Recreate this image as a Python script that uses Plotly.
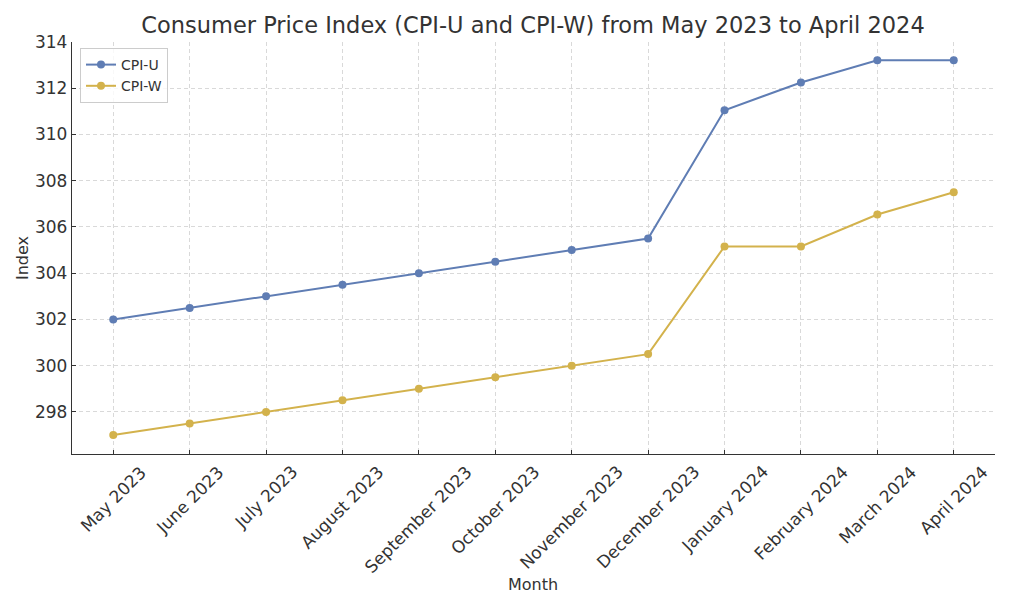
import plotly.graph_objects as go

months = ["May 2023", "June 2023", "July 2023", "August 2023", "September 2023",
          "October 2023", "November 2023", "December 2023", "January 2024",
          "February 2024", "March 2024", "April 2024"]
cpi_u = [302.0, 302.5, 303.0, 303.5, 304.0, 304.5, 305.0, 305.5, 311.05, 312.25, 313.21, 313.21]
cpi_w = [297.0, 297.5, 298.0, 298.5, 299.0, 299.5, 300.0, 300.5, 305.16, 305.16, 306.54, 307.5]
y_ticks = [298, 300, 302, 304, 306, 308, 310, 312, 314]

BLUE = "#5f7db4"
GOLD = "#d3b24c"
FONT = "DejaVu Sans"
TXT = "#333333"
GRID = "#d9d9d9"

# page has an 8px body margin; figure is sized/positioned to compensate
OFF = 8
W, H = 1024 - OFF, 607 - OFF
PL, PR, PT, PB = 72, 995, 42, 454  # plot area in window pixels

fig = go.Figure()
fig.add_trace(go.Scatter(x=list(range(len(months))), y=cpi_u, mode="lines+markers", name="CPI-U",
                         line=dict(color=BLUE, width=2), marker=dict(color=BLUE, size=8)))
fig.add_trace(go.Scatter(x=list(range(len(months))), y=cpi_w, mode="lines+markers", name="CPI-W",
                         line=dict(color=GOLD, width=2), marker=dict(color=GOLD, size=8)))

def px_x(p):
    return (p - PL) / (PR - PL)

def px_y(p):
    return (PB - p) / (PB - PT)

annotations = []
for i, m in enumerate(months):
    annotations.append(dict(x=i, y=0, xref="x", yref="paper", text=m, showarrow=False,
                            textangle=-45, xanchor="center", yanchor="top", yshift=-5,
                            font=dict(family=FONT, size=17, color=TXT)))
annotations.append(dict(x=px_x(533), y=px_y(584), xref="paper", yref="paper",
                        xanchor="center", yanchor="middle", text="Month", showarrow=False,
                        font=dict(family=FONT, size=16, color=TXT)))
annotations.append(dict(x=px_x(22), y=px_y(258), xref="paper", yref="paper",
                        xanchor="center", yanchor="middle", text="Index", showarrow=False,
                        textangle=-90, font=dict(family=FONT, size=16, color=TXT)))

fig.update_layout(
    width=W, height=H,
    margin=dict(l=PL - OFF, r=1024 - PR, t=PT - OFF, b=607 - PB, autoexpand=False),
    paper_bgcolor="white", plot_bgcolor="white",
    font=dict(family=FONT, color=TXT),
    title=dict(text="Consumer Price Index (CPI-U and CPI-W) from May 2023 to April 2024",
               x=(533 - OFF) / W, xanchor="center", y=1 - (25 - OFF) / H, yanchor="middle",
               font=dict(family=FONT, size=22.5, color=TXT)),
    xaxis=dict(range=[-0.54, 11.54], tickmode="array", tickvals=list(range(len(months))),
               showticklabels=False, showgrid=True, gridcolor=GRID, griddash="4px,3px",
               gridwidth=1, showline=True, linecolor="#333333", linewidth=1.3,
               ticks="inside", ticklen=4, tickcolor="#333333", zeroline=False, automargin=False),
    yaxis=dict(range=[296.18, 314], tickmode="array", tickvals=y_ticks,
               showgrid=True, gridcolor=GRID, griddash="4px,3px", gridwidth=1,
               showline=True, linecolor="#333333", linewidth=1.3,
               ticks="inside", ticklen=4, tickcolor="#333333", zeroline=False,
               tickfont=dict(family=FONT, size=17, color=TXT), automargin=False),
    legend=dict(x=px_x(80), y=px_y(48), xanchor="left", yanchor="top",
                bgcolor="rgba(255,255,255,0.8)", bordercolor="#cccccc", borderwidth=1,
                font=dict(family=FONT, size=14, color=TXT), tracegroupgap=0),
    annotations=annotations,
    showlegend=True,
)
fig.write_html("out.html")
